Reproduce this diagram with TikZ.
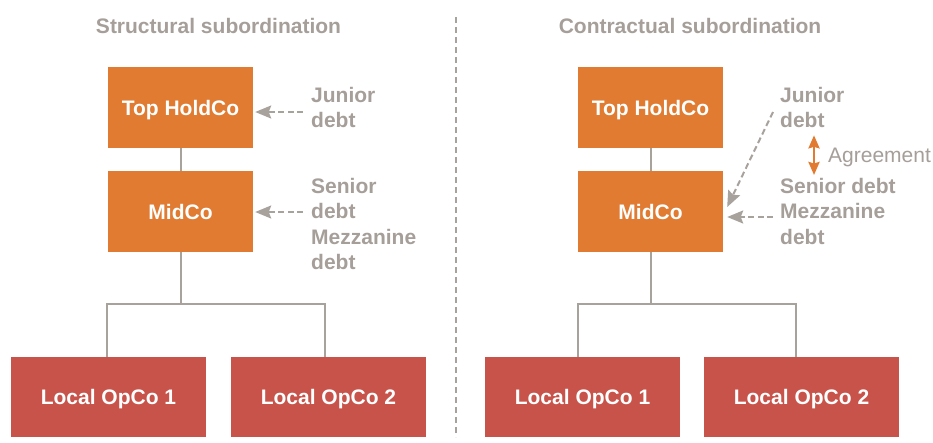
\documentclass[tikz,border=0pt]{standalone}
\usepackage{fontspec}
\setmainfont{Liberation Sans}
\usetikzlibrary{arrows.meta}
\definecolor{boxorange}{HTML}{E07B31}
\definecolor{boxred}{HTML}{C8534A}
\definecolor{greytext}{HTML}{A59E99}
\definecolor{greyline}{HTML}{A8A29D}
\begin{document}
\begin{tikzpicture}[x=1pt,y=-1pt,
  lbl/.style={font=\fontsize{21}{25.5}\selectfont\bfseries, text=greytext},
  company/.style={font=\fontsize{21}{25.5}\selectfont\bfseries, text=white,
    text height=15pt, text depth=0pt, inner sep=0pt,
    minimum width=145pt, minimum height=81pt},
  holdco/.style={company, fill=boxorange},
  opco/.style={company, fill=boxred, minimum width=195pt, minimum height=80pt},
  note/.style={lbl, align=left, anchor=north west, inner sep=0pt},
  link/.style={draw=greyline, line width=2pt},
  debtarrow/.style={draw=greyline, line width=2pt, dash pattern=on 6pt off 3.5pt,
    -{Stealth[length=16pt,width=13pt,inset=2.5pt]}},
  agree/.style={draw=boxorange, line width=2.5pt,
    {Stealth[length=13pt,width=11pt,inset=1.5pt]}-{Stealth[length=13pt,width=11pt,inset=1.5pt]}},
  divider/.style={draw=greyline, line width=2pt, dash pattern=on 6pt off 4pt},
]
\useasboundingbox (0,0) rectangle (933,442);

% headings
\node[lbl, anchor=base] (title1) at (218.5,33) {Structural subordination};
\node[lbl, anchor=base] (title2) at (690,33) {Contractual subordination};

% separator between the two structures
\coordinate (divtop) at (456,17);
\coordinate (divbot) at (456,437);
\draw[divider] (divtop) -- (divbot);

% ---- structural subordination ----
\node[holdco] (top1) at (180.5,107.5) {Top HoldCo};
\node[holdco] (mid1) at (180.5,211.5) {MidCo};
\node[opco] (op11) at (108.5,397) {Local OpCo 1};
\node[opco] (op12) at (328.5,397) {Local OpCo 2};
\coordinate (j1) at (180.5,304);
\draw[link] (top1) -- (mid1);
\draw[link] (mid1) -- (j1);
\draw[link] ([xshift=-1.5pt]op11.north) |- (j1) -| ([xshift=-3.5pt]op12.north);

\node[note] (jun1) at (311,87) {Junior\\debt};
\node[note] (sen1) at (311,178) {Senior\\debt\\Mezzanine\\debt};
\draw[debtarrow] ([shift={(-8,25)}]jun1.north west) -- ([shift={(2,4.5)}]top1.east);
\draw[debtarrow] ([shift={(-8,34)}]sen1.north west) -- ([shift={(2,0.5)}]mid1.east);

% ---- contractual subordination ----
\node[holdco] (top2) at (650.5,107.5) {Top HoldCo};
\node[holdco] (mid2) at (650.5,211.5) {MidCo};
\node[opco] (op21) at (582.5,397) {Local OpCo 1};
\node[opco] (op22) at (801.5,397) {Local OpCo 2};
\coordinate (j2) at (650.5,304);
\draw[link] (top2) -- (mid2);
\draw[link] (mid2) -- (j2);
\draw[link] ([xshift=-5pt]op21.north) |- (j2) -| ([xshift=-6pt]op22.north);

\node[note] (jun2) at (780,87) {Junior\\debt};
\node[note] (sen2) at (780,178) {Senior debt\\Mezzanine\\debt};
\node[lbl, font=\fontsize{21}{25.5}\selectfont\mdseries, anchor=base west, inner sep=0pt]
  (agr) at (828,162) {Agreement};
\draw[agree] ([shift={(34,7)}]jun2.south west) -- ([shift={(34,-3)}]sen2.north west);
\draw[debtarrow] ([shift={(-7,25)}]jun2.north west) -- ([shift={(4,-4.5)}]mid2.east);
\draw[debtarrow] ([shift={(-7,39)}]sen2.north west) -- ([shift={(4,5.5)}]mid2.east);
\end{tikzpicture}
\end{document}
